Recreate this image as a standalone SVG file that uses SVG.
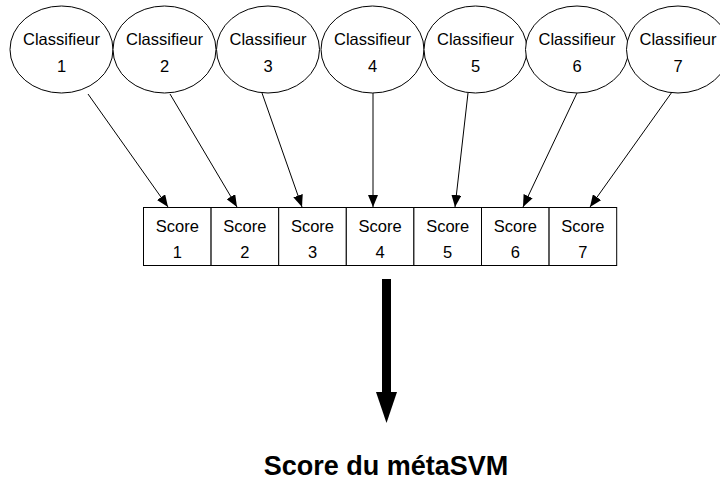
<svg xmlns="http://www.w3.org/2000/svg" width="720" height="483" viewBox="0 0 720 483">
<style>
.ell{fill:#fff;stroke:#000;stroke-width:1}
.box{fill:#fff;stroke:#000;stroke-width:1}
.t{font-family:"Liberation Sans",Arial,sans-serif;font-size:16.5px;fill:#000;text-anchor:middle}
.title{font-family:"Liberation Sans",Arial,sans-serif;font-size:27px;font-weight:bold;fill:#000;text-anchor:middle}
.c{stroke:#000;stroke-width:1;fill:none;marker-end:url(#ah)}
</style>
<defs>
<marker id="ah" markerUnits="userSpaceOnUse" markerWidth="12" markerHeight="10" viewBox="0 0 12 10" refX="12" refY="5" orient="auto">
<path d="M0,0 L12,5 L0,10 Z" fill="#000"/>
</marker>
</defs>
<rect width="720" height="483" fill="#fff"/>
<g id="classifieur1"><ellipse class="ell" cx="61.5" cy="49.5" rx="51.5" ry="43.5"/><text class="t" x="61.5" y="45">Classifieur</text><text class="t" x="61.5" y="72">1</text></g>
<g id="classifieur2"><ellipse class="ell" cx="164.5" cy="49.5" rx="51.5" ry="43.5"/><text class="t" x="164.5" y="45">Classifieur</text><text class="t" x="164.5" y="72">2</text></g>
<g id="classifieur3"><ellipse class="ell" cx="268" cy="49.5" rx="51.5" ry="43.5"/><text class="t" x="268" y="45">Classifieur</text><text class="t" x="268" y="72">3</text></g>
<g id="classifieur4"><ellipse class="ell" cx="372.5" cy="49.5" rx="51.5" ry="43.5"/><text class="t" x="372.5" y="45">Classifieur</text><text class="t" x="372.5" y="72">4</text></g>
<g id="classifieur5"><ellipse class="ell" cx="475.5" cy="49.5" rx="51.5" ry="43.5"/><text class="t" x="475.5" y="45">Classifieur</text><text class="t" x="475.5" y="72">5</text></g>
<g id="classifieur6"><ellipse class="ell" cx="577" cy="49.5" rx="51.5" ry="43.5"/><text class="t" x="577" y="45">Classifieur</text><text class="t" x="577" y="72">6</text></g>
<g id="classifieur7"><ellipse class="ell" cx="678" cy="49.5" rx="51.5" ry="43.5"/><text class="t" x="678" y="45">Classifieur</text><text class="t" x="678" y="72">7</text></g>
<g id="score1"><rect class="box" x="143.5" y="207.5" width="67.6" height="58"/><text class="t" x="177.3" y="231.5">Score</text><text class="t" x="177.3" y="258">1</text></g>
<g id="score2"><rect class="box" x="211.1" y="207.5" width="67.6" height="58"/><text class="t" x="244.9" y="231.5">Score</text><text class="t" x="244.9" y="258">2</text></g>
<g id="score3"><rect class="box" x="278.7" y="207.5" width="67.6" height="58"/><text class="t" x="312.5" y="231.5">Score</text><text class="t" x="312.5" y="258">3</text></g>
<g id="score4"><rect class="box" x="346.3" y="207.5" width="67.6" height="58"/><text class="t" x="380.1" y="231.5">Score</text><text class="t" x="380.1" y="258">4</text></g>
<g id="score5"><rect class="box" x="413.9" y="207.5" width="67.6" height="58"/><text class="t" x="447.7" y="231.5">Score</text><text class="t" x="447.7" y="258">5</text></g>
<g id="score6"><rect class="box" x="481.5" y="207.5" width="67.6" height="58"/><text class="t" x="515.3" y="231.5">Score</text><text class="t" x="515.3" y="258">6</text></g>
<g id="score7"><rect class="box" x="549.1" y="207.5" width="67.6" height="58"/><text class="t" x="582.9" y="231.5">Score</text><text class="t" x="582.9" y="258">7</text></g>
<g id="connectors">
<line class="c" x1="88" y1="94" x2="168" y2="207"/>
<line class="c" x1="170" y1="94" x2="237" y2="207"/>
<line class="c" x1="262" y1="93" x2="302" y2="207"/>
<line class="c" x1="373" y1="93" x2="373" y2="207"/>
<line class="c" x1="468" y1="93" x2="455" y2="207"/>
<line class="c" x1="577" y1="93" x2="523" y2="207"/>
<line class="c" x1="672" y1="92" x2="590" y2="207"/>
<rect x="382" y="279" width="9" height="114" fill="#000"/>
<polygon points="376,392 397,392 386.5,423" fill="#000"/>
</g>
<g id="result"><text class="title" x="386" y="475">Score du métaSVM</text></g>
</svg>
